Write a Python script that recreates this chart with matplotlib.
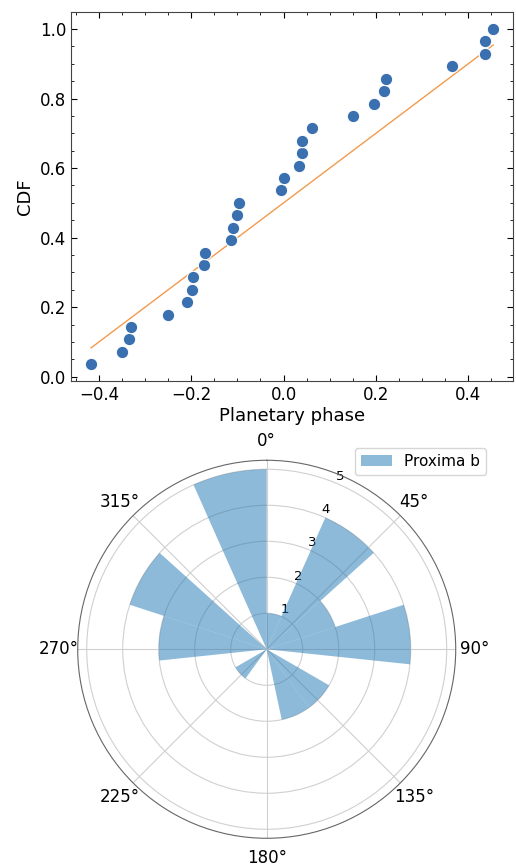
import numpy as np
import matplotlib
matplotlib.use('Agg')
import matplotlib.pyplot as plt
from matplotlib.ticker import AutoMinorLocator

# planetary phase of each event (sorted) and empirical CDF
phase = [-0.417, -0.349, -0.334, -0.330, -0.251, -0.209, -0.199, -0.196,
         -0.172, -0.170, -0.113, -0.109, -0.1005, -0.096, -0.006, 0.001,
         0.0335, 0.039, 0.041, 0.062, 0.151, 0.196, 0.217, 0.2216,
         0.364, 0.436, 0.437, 0.454]
cdf = [(i + 1) / 28.0 for i in range(28)]

# uniform expectation
uni_x = [-0.417, 0.454]
uni_y = [0.083, 0.954]

# polar histogram (15 bins of 24 deg)
bin_start_deg = [0, 24, 48, 72, 96, 120, 144, 168, 192, 216, 240, 264, 288, 312, 336]
counts = [1, 4, 2, 4, 0, 2, 2, 0, 0, 1, 0, 3, 4, 0, 5]

fig = plt.figure(figsize=(5.16, 8.65), dpi=100)

# Top - CDF of phases
ax1 = fig.add_axes([0.1376, 0.5595, 0.857, 0.4263])
ax1.plot(uni_x, uni_y, color='#f39a4c', linewidth=1.0, zorder=2)
ax1.scatter(phase, cdf, s=80, color='#3a70b0', edgecolors='white', linewidths=0.8, zorder=3)
ax1.set_xlabel('Planetary phase', fontsize=13, labelpad=2)
ax1.set_ylabel('CDF', fontsize=13)
ax1.set_xticks([-0.4, -0.2, 0.0, 0.2, 0.4])
ax1.set_yticks([0.0, 0.2, 0.4, 0.6, 0.8, 1.0])
ax1.xaxis.set_minor_locator(AutoMinorLocator(4))
ax1.yaxis.set_minor_locator(AutoMinorLocator(4))
ax1.tick_params(which='both', direction='in', top=True, right=True, labelsize=12)
ax1.tick_params(which='major', length=4)
ax1.tick_params(which='minor', length=2)
for sp in ax1.spines.values():
    sp.set_color('#444444')
    sp.set_linewidth(0.8)

# Bottom - polar histogram
ax2 = fig.add_axes([0.1506, 0.0309, 0.7326, 0.437], projection='polar')
ax2.set_theta_zero_location('N')
ax2.set_theta_direction(-1)
theta = np.deg2rad(bin_start_deg)
width = np.deg2rad(24)
ax2.bar(theta, counts, width=width, align='edge', color='C0', alpha=0.5,
        linewidth=0, label='Proxima b', zorder=2)
ax2.set_ylim(0, 5.25)
ax2.set_yticks([1, 2, 3, 4, 5])
ax2.set_yticklabels(['1', '2', '3', '4', '5'], fontsize=9.5)
ax2.set_rlabel_position(22.5)
ax2.tick_params(axis='x', labelsize=12, pad=3.5)
ax2.grid(True, color='#d0d0d0', linewidth=0.8)
ax2.spines['polar'].set_color('#666666')
ax2.spines['polar'].set_linewidth(0.8)
ax2.legend(loc='upper right', bbox_to_anchor=(486 / 516, (865 - 448) / 865),
           bbox_transform=fig.transFigure, borderaxespad=0, fontsize=11)

plt.savefig('out.png', dpi=100)
